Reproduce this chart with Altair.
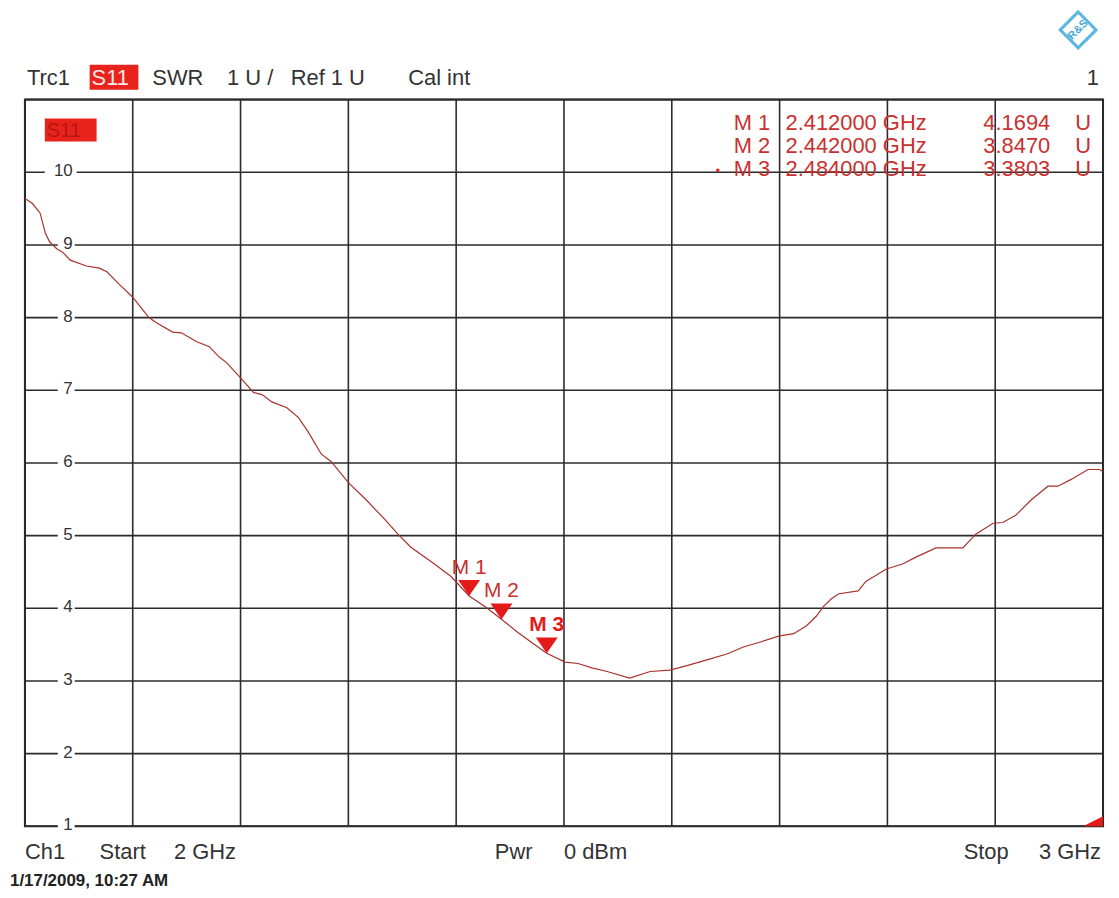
import altair as alt
import pandas as pd

# ---------------- data ----------------
freq_ghz = [2.000, 2.007, 2.014, 2.019, 2.023, 2.030, 2.035, 2.042, 2.057, 2.069,
            2.076, 2.088, 2.100, 2.115, 2.122, 2.137, 2.145, 2.159, 2.171, 2.180,
            2.187, 2.200, 2.212, 2.220, 2.229, 2.243, 2.254, 2.263, 2.275, 2.284,
            2.300, 2.316, 2.334, 2.346, 2.358, 2.377, 2.395, 2.412, 2.427, 2.442,
            2.457, 2.471, 2.484, 2.501, 2.513, 2.526, 2.540, 2.561, 2.580, 2.598,
            2.614, 2.635, 2.651, 2.667, 2.683, 2.700, 2.713, 2.725, 2.734, 2.741,
            2.748, 2.755, 2.773, 2.780, 2.799, 2.814, 2.826, 2.845, 2.870, 2.882,
            2.898, 2.907, 2.919, 2.934, 2.949, 2.958, 2.970, 2.986, 2.997, 3.000]
swr_u = [9.64, 9.57, 9.44, 9.16, 9.04, 8.94, 8.90, 8.79, 8.71, 8.68,
         8.63, 8.45, 8.28, 8.00, 7.93, 7.80, 7.79, 7.67, 7.60, 7.46,
         7.38, 7.17, 6.97, 6.94, 6.84, 6.76, 6.62, 6.42, 6.12, 6.02,
         5.73, 5.50, 5.22, 5.02, 4.84, 4.64, 4.44, 4.17, 4.02, 3.85,
         3.67, 3.52, 3.38, 3.26, 3.24, 3.18, 3.13, 3.04, 3.13, 3.15,
         3.21, 3.30, 3.37, 3.47, 3.54, 3.62, 3.65, 3.76, 3.89, 4.03,
         4.13, 4.20, 4.24, 4.37, 4.54, 4.61, 4.70, 4.83, 4.83, 5.02,
         5.17, 5.18, 5.28, 5.50, 5.68, 5.68, 5.77, 5.91, 5.91, 5.88]

marker_names = ["M 1", "M 2", "M 3"]
marker_freq = [2.412, 2.442, 2.484]
marker_swr = [4.1694, 3.8470, 3.3803]
marker_freq_text = ["2.412000 GHz", "2.442000 GHz", "2.484000 GHz"]
marker_swr_text = ["4.1694", "3.8470", "3.3803"]

x_grid = [2.0, 2.1, 2.2, 2.3, 2.4, 2.5, 2.6, 2.7, 2.8, 2.9, 3.0]
y_grid = [1, 2, 3, 4, 5, 6, 7, 8, 9, 10, 11]
y_tick_labels = [1, 2, 3, 4, 5, 6, 7, 8, 9, 10]

# ---------------- styling ----------------
FONT = "Liberation Sans"
GRID = "#2b2b2b"
TXT = "#333333"
RED_TXT = "#c9302f"
TRACE = "#a8322d"
MARK_RED = "#e41a1a"

xs = alt.Scale(domain=[2, 3], nice=False, zero=False)
ys = alt.Scale(domain=[1, 11], nice=False, zero=False)

trace_df = pd.DataFrame({"f": freq_ghz, "swr": swr_u})
mk_df = pd.DataFrame({"f": marker_freq, "swr": marker_swr, "name": marker_names})
one = pd.DataFrame({"k": [0]})

layers = []

# grid
layers.append(alt.Chart(pd.DataFrame({"f": x_grid})).mark_rule(color=GRID, strokeWidth=1.6)
              .encode(x=alt.X("f:Q", scale=xs, axis=None)))
layers.append(alt.Chart(pd.DataFrame({"swr": y_grid})).mark_rule(color=GRID, strokeWidth=1.6)
              .encode(y=alt.Y("swr:Q", scale=ys, axis=None)))

# white gaps behind y labels
lab_df = pd.DataFrame({"swr": y_tick_labels})
gap_base = alt.Chart(lab_df).transform_calculate(lo="datum.swr - 0.1", hi="datum.swr + 0.1")
layers.append(gap_base.transform_filter("datum.swr >= 10").mark_rect(color="white")
              .encode(x=alt.value(20), x2=alt.value(52),
                      y=alt.Y("lo:Q", scale=ys, axis=None), y2="hi:Q"))
layers.append(gap_base.transform_filter("datum.swr < 10").mark_rect(color="white")
              .encode(x=alt.value(33), x2=alt.value(50),
                      y=alt.Y("lo:Q", scale=ys, axis=None), y2="hi:Q"))
layers.append(alt.Chart(lab_df).mark_text(align="right", baseline="middle", font=FONT,
                                          fontSize=17, color=TXT, dy=-1)
              .encode(x=alt.value(48), y=alt.Y("swr:Q", scale=ys, axis=None),
                      text=alt.Text("swr:Q", format="d")))

# trace
layers.append(alt.Chart(trace_df).mark_line(color=TRACE, strokeWidth=1.2)
              .encode(x=alt.X("f:Q", scale=xs, axis=None), y=alt.Y("swr:Q", scale=ys, axis=None)))

# marker triangles and labels
layers.append(alt.Chart(mk_df).mark_point(shape="M -1 -1.45 L 1 -1.45 L 0 0 Z", filled=True,
                                          size=484, color=MARK_RED, opacity=1, strokeWidth=0)
              .encode(x=alt.X("f:Q", scale=xs, axis=None), y=alt.Y("swr:Q", scale=ys, axis=None)))
layers.append(alt.Chart(mk_df).transform_filter("datum.name != 'M 3'")
              .mark_text(align="center", baseline="alphabetic", dy=-22, font=FONT,
                         fontSize=21, color=RED_TXT)
              .encode(x=alt.X("f:Q", scale=xs, axis=None), y=alt.Y("swr:Q", scale=ys, axis=None),
                      text="name:N"))
layers.append(alt.Chart(mk_df).transform_filter("datum.name == 'M 3'")
              .mark_text(align="center", baseline="alphabetic", dy=-22, font=FONT,
                         fontSize=21, fontWeight="bold", color=MARK_RED)
              .encode(x=alt.X("f:Q", scale=xs, axis=None), y=alt.Y("swr:Q", scale=ys, axis=None),
                      text="name:N"))

# small red corner triangle (bottom right)
layers.append(alt.Chart(pd.DataFrame({"f": [3.0], "swr": [1.0]}))
              .mark_point(shape="M 0 0 L 0 -0.5 L -1 0 Z", filled=True, size=1600,
                          color=MARK_RED, opacity=1, strokeWidth=0)
              .encode(x=alt.X("f:Q", scale=xs, axis=None), y=alt.Y("swr:Q", scale=ys, axis=None)))


def txt(s, x, y, size=22, color=TXT, align="left", weight="normal"):
    return alt.Chart(one).mark_text(text=s, align=align, baseline="alphabetic", font=FONT,
                                    fontSize=size, color=color, fontWeight=weight).encode(
        x=alt.value(x), y=alt.value(y))


def box(x1, x2, y1, y2, color):
    return alt.Chart(one).mark_rect(color=color).encode(
        x=alt.value(x1), x2=alt.value(x2), y=alt.value(y1), y2=alt.value(y2))


# header
layers.append(txt("Trc1", 2, -15))
layers.append(box(65, 114, -35, -10, "#e8231c"))
layers.append(txt("S11", 67, -15, color="#fde6e6"))
layers.append(txt("SWR", 128, -15))
layers.append(txt("1 U /", 203, -15))
layers.append(txt("Ref 1 U", 267, -15))
layers.append(txt("Cal int", 385, -15))
layers.append(txt("1", 1079, -15, align="right"))

# inner S11 badge
layers.append(box(20, 72, 19, 42, "#e8231c"))
layers.append(txt("S11", 22, 38, size=20, color="#b81414"))

# marker table
row_y = [31, 54, 77]
for i in range(3):
    layers.append(txt(marker_names[i], 712, row_y[i], size=22, color=RED_TXT))
    layers.append(txt(marker_freq_text[i], 764, row_y[i], size=22, color=RED_TXT))
    layers.append(txt(marker_swr_text[i], 1030, row_y[i], size=22, color=RED_TXT, align="right"))
    layers.append(txt("U", 1055, row_y[i], size=22, color=RED_TXT))
layers.append(alt.Chart(one).mark_point(filled=True, size=12, color=MARK_RED, opacity=1)
              .encode(x=alt.value(696), y=alt.value(71)))

# footer
layers.append(txt("Ch1", 0, 763))
layers.append(txt("Start", 75, 763))
layers.append(txt("2 GHz", 212, 763, align="right"))
layers.append(txt("Pwr", 472, 763))
layers.append(txt("0 dBm", 605, 763, align="right"))
layers.append(txt("Stop", 943, 763))
layers.append(txt("3 GHz", 1081, 763, align="right"))
layers.append(txt("1/17/2009, 10:27 AM", -15, 790, size=17, color="#222222", weight="bold"))

# R&S logo
layers.append(alt.Chart(one).mark_point(shape="diamond", filled=False, size=1296,
                                        color="#5ab8e0", strokeWidth=3, opacity=1)
              .encode(x=alt.value(1058), y=alt.value(-70)))
layers.append(alt.Chart(one).mark_text(text="R&S", font=FONT, fontSize=11, fontWeight="bold",
                                       color="#4aa8d4", angle=315, align="center", baseline="middle")
              .encode(x=alt.value(1058), y=alt.value(-70)))

chart = alt.layer(*layers).properties(
    width=1083, height=730,
    autosize=alt.AutoSizeParams(type="none"),
    padding={"left": 17, "top": 90, "right": 8, "bottom": 62},
    background="white",
).configure_view(stroke="#222222", strokeWidth=2)

chart.save("out.html", embed_options={"renderer": "svg", "actions": False})
